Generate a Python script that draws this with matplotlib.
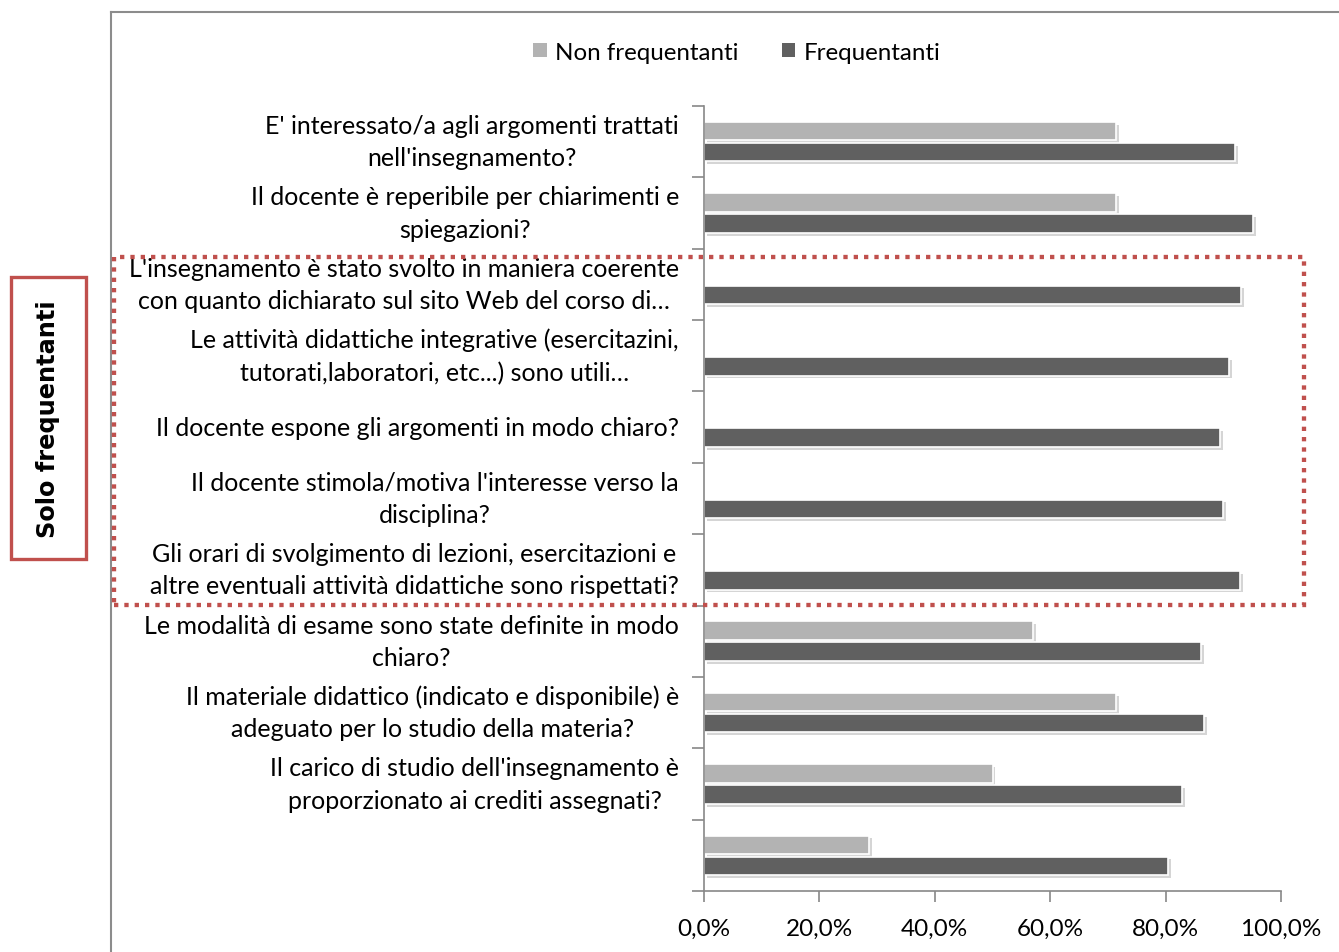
import matplotlib
matplotlib.use("Agg")
import matplotlib.pyplot as plt
import matplotlib.patheffects as pe
from matplotlib.patches import Rectangle
from matplotlib.lines import Line2D
import numpy as np

plt.rcParams['font.family'] = ['Lato', 'DejaVu Sans']

categories = [
    "E' interessato/a agli argomenti trattati\nnell'insegnamento?",
    "Il docente è reperibile per chiarimenti e\nspiegazioni?",
    "L'insegnamento è stato svolto in maniera coerente\ncon quanto dichiarato sul sito Web del corso di…",
    "Le attività didattiche integrative (esercitazini,\ntutorati,laboratori, etc...) sono utili…",
    "Il docente espone gli argomenti in modo chiaro?",
    "Il docente stimola/motiva l'interesse verso la\ndisciplina?",
    "Gli orari di svolgimento di lezioni, esercitazioni e\naltre eventuali attività didattiche sono rispettati?",
    "Le modalità di esame sono state definite in modo\nchiaro?",
    "Il materiale didattico (indicato e disponibile) è\nadeguato per lo studio della materia?",
    "Il carico di studio dell'insegnamento è\nproporzionato ai crediti assegnati?",
    "",
]
non_frequentanti = [71.4, 71.4, 0, 0, 0, 0, 0, 57.1, 71.4, 50.0, 28.6]
frequentanti = [92.0, 95.1, 93.1, 91.0, 89.4, 90.0, 92.9, 86.1, 86.7, 82.8, 80.4]
series_names = ["Non frequentanti", "Frequentanti"]
xtick_values = [0, 20, 40, 60, 80, 100]
xtick_labels = ["0,0%", "20,0%", "40,0%", "60,0%", "80,0%", "100,0%"]

W, H = 1339, 953
fig = plt.figure(figsize=(W / 100, H / 100), dpi=100)
ax = fig.add_axes([704 / W, 1 - 892 / H, (1281 - 704) / W, (892 - 107) / H])

y = np.arange(len(categories))
bh = 0.26
shadow = [pe.SimplePatchShadow(offset=(2, -2), shadow_rgbFace='#888888', alpha=0.35), pe.Normal()]
b1 = ax.barh(y - 0.147, non_frequentanti, height=bh, color='#b3b3b3', edgecolor='white',
             linewidth=1.2, label=series_names[0])
b2 = ax.barh(y + 0.147, frequentanti, height=bh, color='#606060', edgecolor='white',
             linewidth=1.2, label=series_names[1])
for bars, vals in ((b1, non_frequentanti), (b2, frequentanti)):
    for p, v in zip(bars, vals):
        if v > 0:
            p.set_path_effects(shadow)
        else:
            p.set_visible(False)

ax.set_ylim(len(categories) - 0.5, -0.5)
ax.set_xlim(0, 100)
ax.set_yticks(np.arange(-0.5, len(categories), 1.0))
ax.set_yticklabels([])
ax.set_yticks(y, minor=True)
ax.set_yticklabels(categories, minor=True, fontsize=18, multialignment='center',
                   linespacing=1.48)
for t in ax.get_yticklabels(minor=True):
    t.set_verticalalignment('center')
ax.tick_params(axis='y', which='minor', length=0, pad=18)
ax.tick_params(axis='y', which='major', length=9, color='#888888', width=1.2)
ax.set_xticks(xtick_values)
ax.set_xticklabels(xtick_labels, fontsize=17.5)
ax.tick_params(axis='x', length=8, color='#888888', width=1.2, pad=11)
for s in ['top', 'right']:
    ax.spines[s].set_visible(False)
for s in ['left', 'bottom']:
    ax.spines[s].set_color('#888888')
    ax.spines[s].set_linewidth(1.2)

leg = fig.legend(handles=[b1, b2], labels=series_names, loc='center',
                 bbox_to_anchor=(737 / W, 1 - 53 / H), ncol=2, frameon=False,
                 fontsize=17.4, handlelength=0.55, handleheight=0.55, handletextpad=0.35,
                 columnspacing=1.8)
for h in leg.legend_handles:
    h.set_path_effects([])
    h.set_edgecolor('none')

# figure frame lines
fig.add_artist(Line2D([111 / W, 111 / W], [0, 1 - 13 / H], transform=fig.transFigure,
                      color='#8c8c8c', lw=1.5))
fig.add_artist(Line2D([111 / W, 1], [1 - 13 / H, 1 - 13 / H], transform=fig.transFigure,
                      color='#8c8c8c', lw=1.5))

# red dotted rectangle
red = '#c0504d'
fig.add_artist(Rectangle((114 / W, 1 - 606 / H), (1304 - 114) / W, (606 - 258) / H,
                         transform=fig.transFigure, fill=False, edgecolor=red,
                         lw=3.1, linestyle=(0, (1, 1.4)), zorder=5))

# side box
fig.add_artist(Rectangle((11 / W, 1 - 560 / H), (86 - 11) / W, (560 - 278) / H,
                         transform=fig.transFigure, facecolor='white', edgecolor=red,
                         lw=2.4, zorder=5))
fig.text(48 / W, 1 - 419 / H, "Solo frequentanti", rotation=90, ha='center', va='center',
         fontsize=17.3, fontweight='bold', family=['DejaVu Sans'], zorder=6)

fig.savefig("out.png", dpi=100)
